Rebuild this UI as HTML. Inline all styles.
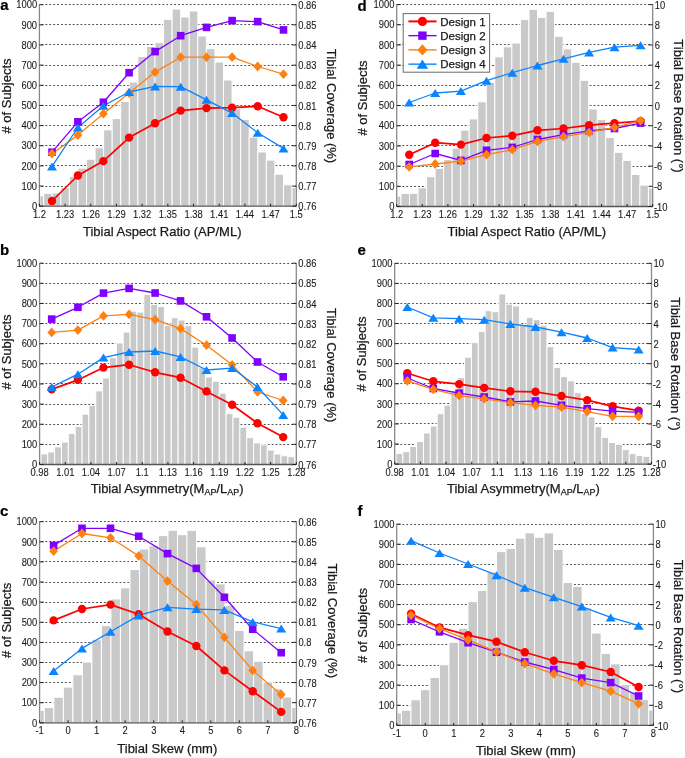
<!DOCTYPE html>
<html><head><meta charset="utf-8"><style>
html,body{margin:0;padding:0;background:#fff;}
svg{display:block;will-change:transform;}
.br{fill:#c9c9c9;stroke:#fff;stroke-width:1;}
.g{stroke:#505050;stroke-width:1;stroke-dasharray:1.9 2;stroke-dashoffset:1.4;}
.ax{stroke:#8a8a8a;stroke-width:1.3;fill:none;}
.axb{stroke:#555;stroke-width:1.3;fill:none;}
.tk{stroke:#222;stroke-width:1;fill:none;}
text{font-family:"Liberation Sans", sans-serif;fill:#1a1a1a;stroke:#1a1a1a;stroke-width:0.25px;}
.t{font-size:10.2px;stroke-width:0.1px;}
.ti{font-size:13px;}
.sub{font-size:9px;}
.pl{font-size:15px;font-weight:bold;fill:#000;stroke:#000;stroke-width:0.2px;}
.lg{font-size:11.5px;}
</style></head><body>
<svg width="685" height="758" viewBox="0 0 685 758">
<line x1="39" y1="4.5" x2="296.3" y2="4.5" class="g"/>
<line x1="39" y1="24.5" x2="296.3" y2="24.5" class="g"/>
<line x1="39" y1="44.5" x2="296.3" y2="44.5" class="g"/>
<line x1="39" y1="65.5" x2="296.3" y2="65.5" class="g"/>
<line x1="39" y1="85.5" x2="296.3" y2="85.5" class="g"/>
<line x1="39" y1="105.5" x2="296.3" y2="105.5" class="g"/>
<line x1="39" y1="125.5" x2="296.3" y2="125.5" class="g"/>
<line x1="39" y1="145.5" x2="296.3" y2="145.5" class="g"/>
<line x1="39" y1="165.5" x2="296.3" y2="165.5" class="g"/>
<line x1="39" y1="186.5" x2="296.3" y2="186.5" class="g"/>
<rect class="br" x="39.9" y="195.8" width="3.78" height="10.4"/>
<rect class="br" x="43.68" y="193.2" width="8.56" height="13"/>
<rect class="br" x="52.25" y="193" width="8.56" height="13.2"/>
<rect class="br" x="60.81" y="187.5" width="8.56" height="18.7"/>
<rect class="br" x="69.37" y="176.4" width="8.56" height="29.8"/>
<rect class="br" x="77.94" y="168.1" width="8.56" height="38.1"/>
<rect class="br" x="86.5" y="159.2" width="8.56" height="47"/>
<rect class="br" x="95.06" y="147.8" width="8.56" height="58.4"/>
<rect class="br" x="103.62" y="129.8" width="8.56" height="76.4"/>
<rect class="br" x="112.19" y="118.6" width="8.56" height="87.6"/>
<rect class="br" x="120.75" y="101.5" width="8.56" height="104.7"/>
<rect class="br" x="129.31" y="82" width="8.56" height="124.2"/>
<rect class="br" x="137.88" y="56.6" width="8.56" height="149.6"/>
<rect class="br" x="146.44" y="46.5" width="8.56" height="159.7"/>
<rect class="br" x="155.01" y="42.7" width="8.56" height="163.5"/>
<rect class="br" x="163.57" y="19.3" width="8.56" height="186.9"/>
<rect class="br" x="172.13" y="9.1" width="8.56" height="197.1"/>
<rect class="br" x="180.7" y="17" width="8.56" height="189.2"/>
<rect class="br" x="189.26" y="11" width="8.56" height="195.2"/>
<rect class="br" x="197.82" y="36" width="8.56" height="170.2"/>
<rect class="br" x="206.39" y="48.6" width="8.56" height="157.6"/>
<rect class="br" x="214.95" y="62" width="8.56" height="144.2"/>
<rect class="br" x="223.51" y="80" width="8.56" height="126.2"/>
<rect class="br" x="232.08" y="108.7" width="8.56" height="97.5"/>
<rect class="br" x="240.64" y="119.3" width="8.56" height="86.9"/>
<rect class="br" x="249.2" y="137" width="8.56" height="69.2"/>
<rect class="br" x="257.76" y="152" width="8.56" height="54.2"/>
<rect class="br" x="266.33" y="160.1" width="8.56" height="46.1"/>
<rect class="br" x="274.89" y="174.2" width="8.56" height="32"/>
<rect class="br" x="283.45" y="184.8" width="8.56" height="21.4"/>
<rect class="br" x="292.02" y="187.7" width="3.78" height="18.5"/>
<path d="M39.4 4.7V206.2M296.3 4.7V206.2" class="ax"/>
<path d="M39.4 206.2H296.3" class="axb"/>
<path d="M39.4 4.7h4M296.3 4.7h-4M39.4 24.85h4M296.3 24.85h-4M39.4 45h4M296.3 45h-4M39.4 65.15h4M296.3 65.15h-4M39.4 85.3h4M296.3 85.3h-4M39.4 105.45h4M296.3 105.45h-4M39.4 125.6h4M296.3 125.6h-4M39.4 145.75h4M296.3 145.75h-4M39.4 165.9h4M296.3 165.9h-4M39.4 186.05h4M296.3 186.05h-4M39.4 206.2h4M296.3 206.2h-4M39.4 206.2v-2.5M65.09 206.2v-2.5M90.78 206.2v-2.5M116.47 206.2v-2.5M142.16 206.2v-2.5M167.85 206.2v-2.5M193.54 206.2v-2.5M219.23 206.2v-2.5M244.92 206.2v-2.5M270.61 206.2v-2.5M296.3 206.2v-2.5" class="tk"/>
<text transform="translate(39.4 217.8) scale(0.92 1)" text-anchor="middle" class="t">1.2</text>
<text transform="translate(65.09 217.8) scale(0.92 1)" text-anchor="middle" class="t">1.23</text>
<text transform="translate(90.78 217.8) scale(0.92 1)" text-anchor="middle" class="t">1.26</text>
<text transform="translate(116.47 217.8) scale(0.92 1)" text-anchor="middle" class="t">1.29</text>
<text transform="translate(142.16 217.8) scale(0.92 1)" text-anchor="middle" class="t">1.32</text>
<text transform="translate(167.85 217.8) scale(0.92 1)" text-anchor="middle" class="t">1.35</text>
<text transform="translate(193.54 217.8) scale(0.92 1)" text-anchor="middle" class="t">1.38</text>
<text transform="translate(219.23 217.8) scale(0.92 1)" text-anchor="middle" class="t">1.41</text>
<text transform="translate(244.92 217.8) scale(0.92 1)" text-anchor="middle" class="t">1.44</text>
<text transform="translate(270.61 217.8) scale(0.92 1)" text-anchor="middle" class="t">1.47</text>
<text transform="translate(296.3 217.8) scale(0.92 1)" text-anchor="middle" class="t">1.5</text>
<text transform="translate(37.1 8.4) scale(0.92 1)" text-anchor="end" class="t">1000</text>
<text transform="translate(37.1 28.55) scale(0.92 1)" text-anchor="end" class="t">900</text>
<text transform="translate(37.1 48.7) scale(0.92 1)" text-anchor="end" class="t">800</text>
<text transform="translate(37.1 68.85) scale(0.92 1)" text-anchor="end" class="t">700</text>
<text transform="translate(37.1 89) scale(0.92 1)" text-anchor="end" class="t">600</text>
<text transform="translate(37.1 109.15) scale(0.92 1)" text-anchor="end" class="t">500</text>
<text transform="translate(37.1 129.3) scale(0.92 1)" text-anchor="end" class="t">400</text>
<text transform="translate(37.1 149.45) scale(0.92 1)" text-anchor="end" class="t">300</text>
<text transform="translate(37.1 169.6) scale(0.92 1)" text-anchor="end" class="t">200</text>
<text transform="translate(37.1 189.75) scale(0.92 1)" text-anchor="end" class="t">100</text>
<text transform="translate(37.1 209.9) scale(0.92 1)" text-anchor="end" class="t">0</text>
<text transform="translate(298.3 8.8) scale(0.92 1)" class="t">0.86</text>
<text transform="translate(298.3 28.95) scale(0.92 1)" class="t">0.85</text>
<text transform="translate(298.3 49.1) scale(0.92 1)" class="t">0.84</text>
<text transform="translate(298.3 69.25) scale(0.92 1)" class="t">0.83</text>
<text transform="translate(298.3 89.4) scale(0.92 1)" class="t">0.82</text>
<text transform="translate(298.3 109.55) scale(0.92 1)" class="t">0.81</text>
<text transform="translate(298.3 129.7) scale(0.92 1)" class="t">0.8</text>
<text transform="translate(298.3 149.85) scale(0.92 1)" class="t">0.79</text>
<text transform="translate(298.3 170) scale(0.92 1)" class="t">0.78</text>
<text transform="translate(298.3 190.15) scale(0.92 1)" class="t">0.77</text>
<text transform="translate(298.3 210.3) scale(0.92 1)" class="t">0.76</text>
<polyline points="52,201 77.9,175.5 103.4,161.1 129.1,137.6 155.1,123.2 180.7,110.6 206.5,108.1 232.1,107.7 257.7,106.2 283.5,117.3" fill="none" stroke="#ff0000" stroke-width="1.7" stroke-linejoin="round"/>
<polyline points="52,152.2 77.9,121.8 103.4,102.2 129.1,72.7 155.1,51.6 180.7,35.7 206.5,27.4 232.1,20.6 257.7,21.6 283.5,29.9" fill="none" stroke="#8000ff" stroke-width="1.3" stroke-linejoin="round"/>
<polyline points="52,153.7 77.9,135.1 103.4,113.7 129.1,93 155.1,72.1 180.7,57.2 206.5,57.2 232.1,57.2 257.7,66.5 283.5,74.2" fill="none" stroke="#ff8010" stroke-width="1.3" stroke-linejoin="round"/>
<polyline points="52,166.4 77.9,127.5 103.4,105.7 129.1,92 155.1,86.4 180.7,86.7 206.5,99.8 232.1,113.1 257.7,132.8 283.5,148.4" fill="none" stroke="#0a84ff" stroke-width="1.3" stroke-linejoin="round"/>
<circle cx="52" cy="201" r="4.2" fill="#ff0000"/>
<circle cx="77.9" cy="175.5" r="4.2" fill="#ff0000"/>
<circle cx="103.4" cy="161.1" r="4.2" fill="#ff0000"/>
<circle cx="129.1" cy="137.6" r="4.2" fill="#ff0000"/>
<circle cx="155.1" cy="123.2" r="4.2" fill="#ff0000"/>
<circle cx="180.7" cy="110.6" r="4.2" fill="#ff0000"/>
<circle cx="206.5" cy="108.1" r="4.2" fill="#ff0000"/>
<circle cx="232.1" cy="107.7" r="4.2" fill="#ff0000"/>
<circle cx="257.7" cy="106.2" r="4.2" fill="#ff0000"/>
<circle cx="283.5" cy="117.3" r="4.2" fill="#ff0000"/>
<rect x="48.2" y="148.4" width="7.6" height="7.6" fill="#8000ff"/>
<rect x="74.1" y="118" width="7.6" height="7.6" fill="#8000ff"/>
<rect x="99.6" y="98.4" width="7.6" height="7.6" fill="#8000ff"/>
<rect x="125.3" y="68.9" width="7.6" height="7.6" fill="#8000ff"/>
<rect x="151.3" y="47.8" width="7.6" height="7.6" fill="#8000ff"/>
<rect x="176.9" y="31.9" width="7.6" height="7.6" fill="#8000ff"/>
<rect x="202.7" y="23.6" width="7.6" height="7.6" fill="#8000ff"/>
<rect x="228.3" y="16.8" width="7.6" height="7.6" fill="#8000ff"/>
<rect x="253.9" y="17.8" width="7.6" height="7.6" fill="#8000ff"/>
<rect x="279.7" y="26.1" width="7.6" height="7.6" fill="#8000ff"/>
<polygon points="52,148.8 56.4,153.7 52,158.6 47.6,153.7" fill="#ff8010"/>
<polygon points="77.9,130.2 82.3,135.1 77.9,140 73.5,135.1" fill="#ff8010"/>
<polygon points="103.4,108.8 107.8,113.7 103.4,118.6 99,113.7" fill="#ff8010"/>
<polygon points="129.1,88.1 133.5,93 129.1,97.9 124.7,93" fill="#ff8010"/>
<polygon points="155.1,67.2 159.5,72.1 155.1,77 150.7,72.1" fill="#ff8010"/>
<polygon points="180.7,52.3 185.1,57.2 180.7,62.1 176.3,57.2" fill="#ff8010"/>
<polygon points="206.5,52.3 210.9,57.2 206.5,62.1 202.1,57.2" fill="#ff8010"/>
<polygon points="232.1,52.3 236.5,57.2 232.1,62.1 227.7,57.2" fill="#ff8010"/>
<polygon points="257.7,61.6 262.1,66.5 257.7,71.4 253.3,66.5" fill="#ff8010"/>
<polygon points="283.5,69.3 287.9,74.2 283.5,79.1 279.1,74.2" fill="#ff8010"/>
<polygon points="52,162.4 57,170.4 47,170.4" fill="#0a84ff"/>
<polygon points="77.9,123.5 82.9,131.5 72.9,131.5" fill="#0a84ff"/>
<polygon points="103.4,101.7 108.4,109.7 98.4,109.7" fill="#0a84ff"/>
<polygon points="129.1,88 134.1,96 124.1,96" fill="#0a84ff"/>
<polygon points="155.1,82.4 160.1,90.4 150.1,90.4" fill="#0a84ff"/>
<polygon points="180.7,82.7 185.7,90.7 175.7,90.7" fill="#0a84ff"/>
<polygon points="206.5,95.8 211.5,103.8 201.5,103.8" fill="#0a84ff"/>
<polygon points="232.1,109.1 237.1,117.1 227.1,117.1" fill="#0a84ff"/>
<polygon points="257.7,128.8 262.7,136.8 252.7,136.8" fill="#0a84ff"/>
<polygon points="283.5,144.4 288.5,152.4 278.5,152.4" fill="#0a84ff"/>
<text x="0.3" y="9.6" class="pl">a</text>
<text x="83" y="236" class="ti">Tibial Aspect Ratio (AP/ML)</text>
<text transform="translate(11,96) rotate(-90)" text-anchor="middle" class="ti"># of Subjects</text>
<text transform="translate(327,106) rotate(90)" text-anchor="middle" class="ti">Tibial Coverage (%)</text>
<line x1="39" y1="263.5" x2="296.3" y2="263.5" class="g"/>
<line x1="39" y1="283.5" x2="296.3" y2="283.5" class="g"/>
<line x1="39" y1="303.5" x2="296.3" y2="303.5" class="g"/>
<line x1="39" y1="323.5" x2="296.3" y2="323.5" class="g"/>
<line x1="39" y1="343.5" x2="296.3" y2="343.5" class="g"/>
<line x1="39" y1="363.5" x2="296.3" y2="363.5" class="g"/>
<line x1="39" y1="383.5" x2="296.3" y2="383.5" class="g"/>
<line x1="39" y1="404.5" x2="296.3" y2="404.5" class="g"/>
<line x1="39" y1="424.5" x2="296.3" y2="424.5" class="g"/>
<line x1="39" y1="444.5" x2="296.3" y2="444.5" class="g"/>
<rect class="br" x="40.1" y="453.9" width="0.8" height="10.6"/>
<rect class="br" x="40.9" y="453.9" width="6.86" height="10.6"/>
<rect class="br" x="47.76" y="452" width="6.86" height="12.5"/>
<rect class="br" x="54.62" y="446.9" width="6.86" height="17.6"/>
<rect class="br" x="61.48" y="442" width="6.86" height="22.5"/>
<rect class="br" x="68.34" y="433.4" width="6.86" height="31.1"/>
<rect class="br" x="75.2" y="426.4" width="6.86" height="38.1"/>
<rect class="br" x="82.06" y="414.1" width="6.86" height="50.4"/>
<rect class="br" x="88.92" y="405.5" width="6.86" height="59"/>
<rect class="br" x="95.78" y="390.9" width="6.86" height="73.6"/>
<rect class="br" x="102.64" y="378" width="6.86" height="86.5"/>
<rect class="br" x="109.5" y="357.6" width="6.86" height="106.9"/>
<rect class="br" x="116.36" y="343" width="6.86" height="121.5"/>
<rect class="br" x="123.22" y="332" width="6.86" height="132.5"/>
<rect class="br" x="130.08" y="311.1" width="6.86" height="153.4"/>
<rect class="br" x="136.94" y="312.1" width="6.86" height="152.4"/>
<rect class="br" x="143.8" y="294.4" width="6.86" height="170.1"/>
<rect class="br" x="150.66" y="304.5" width="6.86" height="160"/>
<rect class="br" x="157.52" y="306.4" width="6.86" height="158.1"/>
<rect class="br" x="164.38" y="325.6" width="6.86" height="138.9"/>
<rect class="br" x="171.24" y="317.7" width="6.86" height="146.8"/>
<rect class="br" x="178.1" y="320" width="6.86" height="144.5"/>
<rect class="br" x="184.96" y="325.6" width="6.86" height="138.9"/>
<rect class="br" x="191.82" y="347" width="6.86" height="117.5"/>
<rect class="br" x="198.68" y="367.8" width="6.86" height="96.7"/>
<rect class="br" x="205.54" y="377" width="6.86" height="87.5"/>
<rect class="br" x="212.4" y="381.2" width="6.86" height="83.3"/>
<rect class="br" x="219.26" y="393.1" width="6.86" height="71.4"/>
<rect class="br" x="226.12" y="413.6" width="6.86" height="50.9"/>
<rect class="br" x="232.98" y="417.2" width="6.86" height="47.3"/>
<rect class="br" x="239.84" y="427.1" width="6.86" height="37.4"/>
<rect class="br" x="246.7" y="437.7" width="6.86" height="26.8"/>
<rect class="br" x="253.56" y="442.9" width="6.86" height="21.6"/>
<rect class="br" x="260.42" y="444.8" width="6.86" height="19.7"/>
<rect class="br" x="267.28" y="450" width="6.86" height="14.5"/>
<rect class="br" x="274.14" y="454" width="6.86" height="10.5"/>
<rect class="br" x="281" y="455.8" width="6.86" height="8.7"/>
<rect class="br" x="287.86" y="456.7" width="6.86" height="7.8"/>
<path d="M39.6 263.2V464.5M296.3 263.2V464.5" class="ax"/>
<path d="M39.6 464.5H296.3" class="axb"/>
<path d="M39.6 263.2h4M296.3 263.2h-4M39.6 283.33h4M296.3 283.33h-4M39.6 303.46h4M296.3 303.46h-4M39.6 323.59h4M296.3 323.59h-4M39.6 343.72h4M296.3 343.72h-4M39.6 363.85h4M296.3 363.85h-4M39.6 383.98h4M296.3 383.98h-4M39.6 404.11h4M296.3 404.11h-4M39.6 424.24h4M296.3 424.24h-4M39.6 444.37h4M296.3 444.37h-4M39.6 464.5h4M296.3 464.5h-4M39.6 464.5v-2.5M65.27 464.5v-2.5M90.94 464.5v-2.5M116.61 464.5v-2.5M142.28 464.5v-2.5M167.95 464.5v-2.5M193.62 464.5v-2.5M219.29 464.5v-2.5M244.96 464.5v-2.5M270.63 464.5v-2.5M296.3 464.5v-2.5" class="tk"/>
<text transform="translate(39.6 476.1) scale(0.92 1)" text-anchor="middle" class="t">0.98</text>
<text transform="translate(65.27 476.1) scale(0.92 1)" text-anchor="middle" class="t">1.01</text>
<text transform="translate(90.94 476.1) scale(0.92 1)" text-anchor="middle" class="t">1.04</text>
<text transform="translate(116.61 476.1) scale(0.92 1)" text-anchor="middle" class="t">1.07</text>
<text transform="translate(142.28 476.1) scale(0.92 1)" text-anchor="middle" class="t">1.1</text>
<text transform="translate(167.95 476.1) scale(0.92 1)" text-anchor="middle" class="t">1.13</text>
<text transform="translate(193.62 476.1) scale(0.92 1)" text-anchor="middle" class="t">1.16</text>
<text transform="translate(219.29 476.1) scale(0.92 1)" text-anchor="middle" class="t">1.19</text>
<text transform="translate(244.96 476.1) scale(0.92 1)" text-anchor="middle" class="t">1.22</text>
<text transform="translate(270.63 476.1) scale(0.92 1)" text-anchor="middle" class="t">1.25</text>
<text transform="translate(296.3 476.1) scale(0.92 1)" text-anchor="middle" class="t">1.28</text>
<text transform="translate(37.3 266.9) scale(0.92 1)" text-anchor="end" class="t">1000</text>
<text transform="translate(37.3 287.03) scale(0.92 1)" text-anchor="end" class="t">900</text>
<text transform="translate(37.3 307.16) scale(0.92 1)" text-anchor="end" class="t">800</text>
<text transform="translate(37.3 327.29) scale(0.92 1)" text-anchor="end" class="t">700</text>
<text transform="translate(37.3 347.42) scale(0.92 1)" text-anchor="end" class="t">600</text>
<text transform="translate(37.3 367.55) scale(0.92 1)" text-anchor="end" class="t">500</text>
<text transform="translate(37.3 387.68) scale(0.92 1)" text-anchor="end" class="t">400</text>
<text transform="translate(37.3 407.81) scale(0.92 1)" text-anchor="end" class="t">300</text>
<text transform="translate(37.3 427.94) scale(0.92 1)" text-anchor="end" class="t">200</text>
<text transform="translate(37.3 448.07) scale(0.92 1)" text-anchor="end" class="t">100</text>
<text transform="translate(37.3 468.2) scale(0.92 1)" text-anchor="end" class="t">0</text>
<text transform="translate(298.3 267.3) scale(0.92 1)" class="t">0.86</text>
<text transform="translate(298.3 287.43) scale(0.92 1)" class="t">0.85</text>
<text transform="translate(298.3 307.56) scale(0.92 1)" class="t">0.84</text>
<text transform="translate(298.3 327.69) scale(0.92 1)" class="t">0.83</text>
<text transform="translate(298.3 347.82) scale(0.92 1)" class="t">0.82</text>
<text transform="translate(298.3 367.95) scale(0.92 1)" class="t">0.81</text>
<text transform="translate(298.3 388.08) scale(0.92 1)" class="t">0.8</text>
<text transform="translate(298.3 408.21) scale(0.92 1)" class="t">0.79</text>
<text transform="translate(298.3 428.34) scale(0.92 1)" class="t">0.78</text>
<text transform="translate(298.3 448.47) scale(0.92 1)" class="t">0.77</text>
<text transform="translate(298.3 468.6) scale(0.92 1)" class="t">0.76</text>
<polyline points="51.7,389.4 77.9,379.9 103.5,367.6 129.1,364.7 155.1,372.3 180.5,377.7 206.5,391.4 232.1,404.7 257.5,423.2 283.2,437.1" fill="none" stroke="#ff0000" stroke-width="1.7" stroke-linejoin="round"/>
<polyline points="51.7,319.1 77.9,307.3 103.5,293.1 129.1,288.4 155.1,293 180.5,300.9 206.5,316.8 232.1,338 257.5,362 283.2,376.8" fill="none" stroke="#8000ff" stroke-width="1.3" stroke-linejoin="round"/>
<polyline points="51.7,332.4 77.9,330.1 103.5,315.9 129.1,314.4 155.1,319.7 180.5,328.6 206.5,345.2 232.1,364.8 257.5,391.8 283.2,400.5" fill="none" stroke="#ff8010" stroke-width="1.3" stroke-linejoin="round"/>
<polyline points="51.7,387.1 77.9,374.2 103.5,357.6 129.1,352 155.1,351 180.5,356.9 206.5,370 232.1,368.1 257.5,387 283.2,414.9" fill="none" stroke="#0a84ff" stroke-width="1.3" stroke-linejoin="round"/>
<circle cx="51.7" cy="389.4" r="4.2" fill="#ff0000"/>
<circle cx="77.9" cy="379.9" r="4.2" fill="#ff0000"/>
<circle cx="103.5" cy="367.6" r="4.2" fill="#ff0000"/>
<circle cx="129.1" cy="364.7" r="4.2" fill="#ff0000"/>
<circle cx="155.1" cy="372.3" r="4.2" fill="#ff0000"/>
<circle cx="180.5" cy="377.7" r="4.2" fill="#ff0000"/>
<circle cx="206.5" cy="391.4" r="4.2" fill="#ff0000"/>
<circle cx="232.1" cy="404.7" r="4.2" fill="#ff0000"/>
<circle cx="257.5" cy="423.2" r="4.2" fill="#ff0000"/>
<circle cx="283.2" cy="437.1" r="4.2" fill="#ff0000"/>
<rect x="47.9" y="315.3" width="7.6" height="7.6" fill="#8000ff"/>
<rect x="74.1" y="303.5" width="7.6" height="7.6" fill="#8000ff"/>
<rect x="99.7" y="289.3" width="7.6" height="7.6" fill="#8000ff"/>
<rect x="125.3" y="284.6" width="7.6" height="7.6" fill="#8000ff"/>
<rect x="151.3" y="289.2" width="7.6" height="7.6" fill="#8000ff"/>
<rect x="176.7" y="297.1" width="7.6" height="7.6" fill="#8000ff"/>
<rect x="202.7" y="313" width="7.6" height="7.6" fill="#8000ff"/>
<rect x="228.3" y="334.2" width="7.6" height="7.6" fill="#8000ff"/>
<rect x="253.7" y="358.2" width="7.6" height="7.6" fill="#8000ff"/>
<rect x="279.4" y="373" width="7.6" height="7.6" fill="#8000ff"/>
<polygon points="51.7,327.5 56.1,332.4 51.7,337.3 47.3,332.4" fill="#ff8010"/>
<polygon points="77.9,325.2 82.3,330.1 77.9,335 73.5,330.1" fill="#ff8010"/>
<polygon points="103.5,311 107.9,315.9 103.5,320.8 99.1,315.9" fill="#ff8010"/>
<polygon points="129.1,309.5 133.5,314.4 129.1,319.3 124.7,314.4" fill="#ff8010"/>
<polygon points="155.1,314.8 159.5,319.7 155.1,324.6 150.7,319.7" fill="#ff8010"/>
<polygon points="180.5,323.7 184.9,328.6 180.5,333.5 176.1,328.6" fill="#ff8010"/>
<polygon points="206.5,340.3 210.9,345.2 206.5,350.1 202.1,345.2" fill="#ff8010"/>
<polygon points="232.1,359.9 236.5,364.8 232.1,369.7 227.7,364.8" fill="#ff8010"/>
<polygon points="257.5,386.9 261.9,391.8 257.5,396.7 253.1,391.8" fill="#ff8010"/>
<polygon points="283.2,395.6 287.6,400.5 283.2,405.4 278.8,400.5" fill="#ff8010"/>
<polygon points="51.7,383.1 56.7,391.1 46.7,391.1" fill="#0a84ff"/>
<polygon points="77.9,370.2 82.9,378.2 72.9,378.2" fill="#0a84ff"/>
<polygon points="103.5,353.6 108.5,361.6 98.5,361.6" fill="#0a84ff"/>
<polygon points="129.1,348 134.1,356 124.1,356" fill="#0a84ff"/>
<polygon points="155.1,347 160.1,355 150.1,355" fill="#0a84ff"/>
<polygon points="180.5,352.9 185.5,360.9 175.5,360.9" fill="#0a84ff"/>
<polygon points="206.5,366 211.5,374 201.5,374" fill="#0a84ff"/>
<polygon points="232.1,364.1 237.1,372.1 227.1,372.1" fill="#0a84ff"/>
<polygon points="257.5,383 262.5,391 252.5,391" fill="#0a84ff"/>
<polygon points="283.2,410.9 288.2,418.9 278.2,418.9" fill="#0a84ff"/>
<text x="0" y="254.5" class="pl">b</text>
<text x="90.8" y="492.6" class="ti">Tibial Asymmetry(M<tspan class="sub" dy="2">AP</tspan><tspan dy="-2">/L</tspan><tspan class="sub" dy="2">AP</tspan><tspan dy="-2">)</tspan></text>
<text transform="translate(10.7,352) rotate(-90)" text-anchor="middle" class="ti"># of Subjects</text>
<text transform="translate(327,365.2) rotate(90)" text-anchor="middle" class="ti">Tibial Coverage (%)</text>
<line x1="39" y1="521.5" x2="296.4" y2="521.5" class="g"/>
<line x1="39" y1="541.5" x2="296.4" y2="541.5" class="g"/>
<line x1="39" y1="561.5" x2="296.4" y2="561.5" class="g"/>
<line x1="39" y1="582.5" x2="296.4" y2="582.5" class="g"/>
<line x1="39" y1="602.5" x2="296.4" y2="602.5" class="g"/>
<line x1="39" y1="622.5" x2="296.4" y2="622.5" class="g"/>
<line x1="39" y1="642.5" x2="296.4" y2="642.5" class="g"/>
<line x1="39" y1="662.5" x2="296.4" y2="662.5" class="g"/>
<line x1="39" y1="682.5" x2="296.4" y2="682.5" class="g"/>
<line x1="39" y1="702.5" x2="296.4" y2="702.5" class="g"/>
<rect class="br" x="40.1" y="710.4" width="4.26" height="12.4"/>
<rect class="br" x="44.36" y="707.6" width="9.51" height="15.2"/>
<rect class="br" x="53.87" y="697.2" width="9.51" height="25.6"/>
<rect class="br" x="63.38" y="687.1" width="9.51" height="35.7"/>
<rect class="br" x="72.89" y="674.8" width="9.51" height="48"/>
<rect class="br" x="82.4" y="662.1" width="9.51" height="60.7"/>
<rect class="br" x="91.91" y="639.7" width="9.51" height="83.1"/>
<rect class="br" x="101.42" y="625.6" width="9.51" height="97.2"/>
<rect class="br" x="110.93" y="599" width="9.51" height="123.8"/>
<rect class="br" x="120.44" y="587.9" width="9.51" height="134.9"/>
<rect class="br" x="129.96" y="569.5" width="9.51" height="153.3"/>
<rect class="br" x="139.47" y="549" width="9.51" height="173.8"/>
<rect class="br" x="148.98" y="545.8" width="9.51" height="177"/>
<rect class="br" x="158.49" y="535.6" width="9.51" height="187.2"/>
<rect class="br" x="168" y="530.3" width="9.51" height="192.5"/>
<rect class="br" x="177.51" y="534.7" width="9.51" height="188.1"/>
<rect class="br" x="187.02" y="530.3" width="9.51" height="192.5"/>
<rect class="br" x="196.53" y="546.8" width="9.51" height="176"/>
<rect class="br" x="206.04" y="580" width="9.51" height="142.8"/>
<rect class="br" x="215.56" y="583.9" width="9.51" height="138.9"/>
<rect class="br" x="225.07" y="605.4" width="9.51" height="117.4"/>
<rect class="br" x="234.58" y="630.4" width="9.51" height="92.4"/>
<rect class="br" x="244.09" y="650.8" width="9.51" height="72"/>
<rect class="br" x="253.6" y="661.2" width="9.51" height="61.6"/>
<rect class="br" x="263.11" y="682" width="9.51" height="40.8"/>
<rect class="br" x="272.62" y="688.7" width="9.51" height="34.1"/>
<rect class="br" x="282.13" y="697" width="9.51" height="25.8"/>
<rect class="br" x="291.64" y="707.4" width="4.26" height="15.4"/>
<path d="M39.6 521.7V722.8M296.4 521.7V722.8" class="ax"/>
<path d="M39.6 722.8H296.4" class="axb"/>
<path d="M39.6 521.7h4M296.4 521.7h-4M39.6 541.81h4M296.4 541.81h-4M39.6 561.92h4M296.4 561.92h-4M39.6 582.03h4M296.4 582.03h-4M39.6 602.14h4M296.4 602.14h-4M39.6 622.25h4M296.4 622.25h-4M39.6 642.36h4M296.4 642.36h-4M39.6 662.47h4M296.4 662.47h-4M39.6 682.58h4M296.4 682.58h-4M39.6 702.69h4M296.4 702.69h-4M39.6 722.8h4M296.4 722.8h-4M39.6 722.8v-2.5M68.13 722.8v-2.5M96.67 722.8v-2.5M125.2 722.8v-2.5M153.73 722.8v-2.5M182.27 722.8v-2.5M210.8 722.8v-2.5M239.33 722.8v-2.5M267.87 722.8v-2.5M296.4 722.8v-2.5" class="tk"/>
<text transform="translate(39.6 734.4) scale(0.92 1)" text-anchor="middle" class="t">-1</text>
<text transform="translate(68.13 734.4) scale(0.92 1)" text-anchor="middle" class="t">0</text>
<text transform="translate(96.67 734.4) scale(0.92 1)" text-anchor="middle" class="t">1</text>
<text transform="translate(125.2 734.4) scale(0.92 1)" text-anchor="middle" class="t">2</text>
<text transform="translate(153.73 734.4) scale(0.92 1)" text-anchor="middle" class="t">3</text>
<text transform="translate(182.27 734.4) scale(0.92 1)" text-anchor="middle" class="t">4</text>
<text transform="translate(210.8 734.4) scale(0.92 1)" text-anchor="middle" class="t">5</text>
<text transform="translate(239.33 734.4) scale(0.92 1)" text-anchor="middle" class="t">6</text>
<text transform="translate(267.87 734.4) scale(0.92 1)" text-anchor="middle" class="t">7</text>
<text transform="translate(296.4 734.4) scale(0.92 1)" text-anchor="middle" class="t">8</text>
<text transform="translate(37.3 525.4) scale(0.92 1)" text-anchor="end" class="t">1000</text>
<text transform="translate(37.3 545.51) scale(0.92 1)" text-anchor="end" class="t">900</text>
<text transform="translate(37.3 565.62) scale(0.92 1)" text-anchor="end" class="t">800</text>
<text transform="translate(37.3 585.73) scale(0.92 1)" text-anchor="end" class="t">700</text>
<text transform="translate(37.3 605.84) scale(0.92 1)" text-anchor="end" class="t">600</text>
<text transform="translate(37.3 625.95) scale(0.92 1)" text-anchor="end" class="t">500</text>
<text transform="translate(37.3 646.06) scale(0.92 1)" text-anchor="end" class="t">400</text>
<text transform="translate(37.3 666.17) scale(0.92 1)" text-anchor="end" class="t">300</text>
<text transform="translate(37.3 686.28) scale(0.92 1)" text-anchor="end" class="t">200</text>
<text transform="translate(37.3 706.39) scale(0.92 1)" text-anchor="end" class="t">100</text>
<text transform="translate(37.3 726.5) scale(0.92 1)" text-anchor="end" class="t">0</text>
<text transform="translate(298.4 525.8) scale(0.92 1)" class="t">0.86</text>
<text transform="translate(298.4 545.91) scale(0.92 1)" class="t">0.85</text>
<text transform="translate(298.4 566.02) scale(0.92 1)" class="t">0.84</text>
<text transform="translate(298.4 586.13) scale(0.92 1)" class="t">0.83</text>
<text transform="translate(298.4 606.24) scale(0.92 1)" class="t">0.82</text>
<text transform="translate(298.4 626.35) scale(0.92 1)" class="t">0.81</text>
<text transform="translate(298.4 646.46) scale(0.92 1)" class="t">0.8</text>
<text transform="translate(298.4 666.57) scale(0.92 1)" class="t">0.79</text>
<text transform="translate(298.4 686.68) scale(0.92 1)" class="t">0.78</text>
<text transform="translate(298.4 706.79) scale(0.92 1)" class="t">0.77</text>
<text transform="translate(298.4 726.9) scale(0.92 1)" class="t">0.76</text>
<polyline points="53.6,620.4 82,609 110.5,604.6 138.7,614.3 167.5,631.5 196.3,646 224.4,670.4 252.7,691.2 281.2,711.9" fill="none" stroke="#ff0000" stroke-width="1.7" stroke-linejoin="round"/>
<polyline points="53.6,545.4 82,528.3 110.5,528.3 138.7,536.3 167.5,553.6 196.3,568.4 224.4,597.3 252.7,629.2 281.2,652.7" fill="none" stroke="#8000ff" stroke-width="1.3" stroke-linejoin="round"/>
<polyline points="53.6,551.1 82,533.5 110.5,537.8 138.7,555.9 167.5,581.1 196.3,604.6 224.4,637.3 252.7,670.4 281.2,694.5" fill="none" stroke="#ff8010" stroke-width="1.3" stroke-linejoin="round"/>
<polyline points="53.6,671.1 82,648.4 110.5,631.7 138.7,615.4 167.5,607.3 196.3,609.1 224.4,609.9 252.7,621.9 281.2,628.6" fill="none" stroke="#0a84ff" stroke-width="1.3" stroke-linejoin="round"/>
<circle cx="53.6" cy="620.4" r="4.2" fill="#ff0000"/>
<circle cx="82" cy="609" r="4.2" fill="#ff0000"/>
<circle cx="110.5" cy="604.6" r="4.2" fill="#ff0000"/>
<circle cx="138.7" cy="614.3" r="4.2" fill="#ff0000"/>
<circle cx="167.5" cy="631.5" r="4.2" fill="#ff0000"/>
<circle cx="196.3" cy="646" r="4.2" fill="#ff0000"/>
<circle cx="224.4" cy="670.4" r="4.2" fill="#ff0000"/>
<circle cx="252.7" cy="691.2" r="4.2" fill="#ff0000"/>
<circle cx="281.2" cy="711.9" r="4.2" fill="#ff0000"/>
<rect x="49.8" y="541.6" width="7.6" height="7.6" fill="#8000ff"/>
<rect x="78.2" y="524.5" width="7.6" height="7.6" fill="#8000ff"/>
<rect x="106.7" y="524.5" width="7.6" height="7.6" fill="#8000ff"/>
<rect x="134.9" y="532.5" width="7.6" height="7.6" fill="#8000ff"/>
<rect x="163.7" y="549.8" width="7.6" height="7.6" fill="#8000ff"/>
<rect x="192.5" y="564.6" width="7.6" height="7.6" fill="#8000ff"/>
<rect x="220.6" y="593.5" width="7.6" height="7.6" fill="#8000ff"/>
<rect x="248.9" y="625.4" width="7.6" height="7.6" fill="#8000ff"/>
<rect x="277.4" y="648.9" width="7.6" height="7.6" fill="#8000ff"/>
<polygon points="53.6,546.2 58,551.1 53.6,556 49.2,551.1" fill="#ff8010"/>
<polygon points="82,528.6 86.4,533.5 82,538.4 77.6,533.5" fill="#ff8010"/>
<polygon points="110.5,532.9 114.9,537.8 110.5,542.7 106.1,537.8" fill="#ff8010"/>
<polygon points="138.7,551 143.1,555.9 138.7,560.8 134.3,555.9" fill="#ff8010"/>
<polygon points="167.5,576.2 171.9,581.1 167.5,586 163.1,581.1" fill="#ff8010"/>
<polygon points="196.3,599.7 200.7,604.6 196.3,609.5 191.9,604.6" fill="#ff8010"/>
<polygon points="224.4,632.4 228.8,637.3 224.4,642.2 220,637.3" fill="#ff8010"/>
<polygon points="252.7,665.5 257.1,670.4 252.7,675.3 248.3,670.4" fill="#ff8010"/>
<polygon points="281.2,689.6 285.6,694.5 281.2,699.4 276.8,694.5" fill="#ff8010"/>
<polygon points="53.6,667.1 58.6,675.1 48.6,675.1" fill="#0a84ff"/>
<polygon points="82,644.4 87,652.4 77,652.4" fill="#0a84ff"/>
<polygon points="110.5,627.7 115.5,635.7 105.5,635.7" fill="#0a84ff"/>
<polygon points="138.7,611.4 143.7,619.4 133.7,619.4" fill="#0a84ff"/>
<polygon points="167.5,603.3 172.5,611.3 162.5,611.3" fill="#0a84ff"/>
<polygon points="196.3,605.1 201.3,613.1 191.3,613.1" fill="#0a84ff"/>
<polygon points="224.4,605.9 229.4,613.9 219.4,613.9" fill="#0a84ff"/>
<polygon points="252.7,617.9 257.7,625.9 247.7,625.9" fill="#0a84ff"/>
<polygon points="281.2,624.6 286.2,632.6 276.2,632.6" fill="#0a84ff"/>
<text x="0" y="515.5" class="pl">c</text>
<text x="117.3" y="752.6" class="ti">Tibial Skew (mm)</text>
<text transform="translate(10.7,620.3) rotate(-90)" text-anchor="middle" class="ti"># of Subjects</text>
<text transform="translate(328.2,620.8) rotate(90)" text-anchor="middle" class="ti">Tibial Coverage (%)</text>
<line x1="396" y1="4.5" x2="652.7" y2="4.5" class="g"/>
<line x1="396" y1="24.5" x2="652.7" y2="24.5" class="g"/>
<line x1="396" y1="44.5" x2="652.7" y2="44.5" class="g"/>
<line x1="396" y1="65.5" x2="652.7" y2="65.5" class="g"/>
<line x1="396" y1="85.5" x2="652.7" y2="85.5" class="g"/>
<line x1="396" y1="105.5" x2="652.7" y2="105.5" class="g"/>
<line x1="396" y1="125.5" x2="652.7" y2="125.5" class="g"/>
<line x1="396" y1="145.5" x2="652.7" y2="145.5" class="g"/>
<line x1="396" y1="166.5" x2="652.7" y2="166.5" class="g"/>
<line x1="396" y1="186.5" x2="652.7" y2="186.5" class="g"/>
<rect class="br" x="397.2" y="196.1" width="3.77" height="10.4"/>
<rect class="br" x="400.97" y="193.5" width="8.53" height="13"/>
<rect class="br" x="409.5" y="193.3" width="8.53" height="13.2"/>
<rect class="br" x="418.03" y="187.8" width="8.53" height="18.7"/>
<rect class="br" x="426.57" y="176.7" width="8.53" height="29.8"/>
<rect class="br" x="435.1" y="168.4" width="8.53" height="38.1"/>
<rect class="br" x="443.63" y="159.5" width="8.53" height="47"/>
<rect class="br" x="452.17" y="148.1" width="8.53" height="58.4"/>
<rect class="br" x="460.7" y="130.1" width="8.53" height="76.4"/>
<rect class="br" x="469.23" y="118.9" width="8.53" height="87.6"/>
<rect class="br" x="477.77" y="101.8" width="8.53" height="104.7"/>
<rect class="br" x="486.3" y="82.3" width="8.53" height="124.2"/>
<rect class="br" x="494.83" y="56.9" width="8.53" height="149.6"/>
<rect class="br" x="503.37" y="46.8" width="8.53" height="159.7"/>
<rect class="br" x="511.9" y="43" width="8.53" height="163.5"/>
<rect class="br" x="520.43" y="19.6" width="8.53" height="186.9"/>
<rect class="br" x="528.97" y="9.4" width="8.53" height="197.1"/>
<rect class="br" x="537.5" y="17.3" width="8.53" height="189.2"/>
<rect class="br" x="546.03" y="11.3" width="8.53" height="195.2"/>
<rect class="br" x="554.57" y="36.3" width="8.53" height="170.2"/>
<rect class="br" x="563.1" y="48.9" width="8.53" height="157.6"/>
<rect class="br" x="571.63" y="62.3" width="8.53" height="144.2"/>
<rect class="br" x="580.17" y="80.3" width="8.53" height="126.2"/>
<rect class="br" x="588.7" y="109" width="8.53" height="97.5"/>
<rect class="br" x="597.23" y="119.6" width="8.53" height="86.9"/>
<rect class="br" x="605.77" y="137.3" width="8.53" height="69.2"/>
<rect class="br" x="614.3" y="152.3" width="8.53" height="54.2"/>
<rect class="br" x="622.83" y="160.4" width="8.53" height="46.1"/>
<rect class="br" x="631.37" y="174.5" width="8.53" height="32"/>
<rect class="br" x="639.9" y="185.1" width="8.53" height="21.4"/>
<rect class="br" x="648.43" y="188" width="3.77" height="18.5"/>
<path d="M396.7 4.6V206.5M652.7 4.6V206.5" class="ax"/>
<path d="M396.7 206.5H652.7" class="axb"/>
<path d="M396.7 4.6h4M652.7 4.6h-4M396.7 24.79h4M652.7 24.79h-4M396.7 44.98h4M652.7 44.98h-4M396.7 65.17h4M652.7 65.17h-4M396.7 85.36h4M652.7 85.36h-4M396.7 105.55h4M652.7 105.55h-4M396.7 125.74h4M652.7 125.74h-4M396.7 145.93h4M652.7 145.93h-4M396.7 166.12h4M652.7 166.12h-4M396.7 186.31h4M652.7 186.31h-4M396.7 206.5h4M652.7 206.5h-4M396.7 206.5v-2.5M422.3 206.5v-2.5M447.9 206.5v-2.5M473.5 206.5v-2.5M499.1 206.5v-2.5M524.7 206.5v-2.5M550.3 206.5v-2.5M575.9 206.5v-2.5M601.5 206.5v-2.5M627.1 206.5v-2.5M652.7 206.5v-2.5" class="tk"/>
<text transform="translate(396.7 218.1) scale(0.92 1)" text-anchor="middle" class="t">1.2</text>
<text transform="translate(422.3 218.1) scale(0.92 1)" text-anchor="middle" class="t">1.23</text>
<text transform="translate(447.9 218.1) scale(0.92 1)" text-anchor="middle" class="t">1.26</text>
<text transform="translate(473.5 218.1) scale(0.92 1)" text-anchor="middle" class="t">1.29</text>
<text transform="translate(499.1 218.1) scale(0.92 1)" text-anchor="middle" class="t">1.32</text>
<text transform="translate(524.7 218.1) scale(0.92 1)" text-anchor="middle" class="t">1.35</text>
<text transform="translate(550.3 218.1) scale(0.92 1)" text-anchor="middle" class="t">1.38</text>
<text transform="translate(575.9 218.1) scale(0.92 1)" text-anchor="middle" class="t">1.41</text>
<text transform="translate(601.5 218.1) scale(0.92 1)" text-anchor="middle" class="t">1.44</text>
<text transform="translate(627.1 218.1) scale(0.92 1)" text-anchor="middle" class="t">1.47</text>
<text transform="translate(652.7 218.1) scale(0.92 1)" text-anchor="middle" class="t">1.5</text>
<text transform="translate(394.4 8.3) scale(0.92 1)" text-anchor="end" class="t">1000</text>
<text transform="translate(394.4 28.49) scale(0.92 1)" text-anchor="end" class="t">900</text>
<text transform="translate(394.4 48.68) scale(0.92 1)" text-anchor="end" class="t">800</text>
<text transform="translate(394.4 68.87) scale(0.92 1)" text-anchor="end" class="t">700</text>
<text transform="translate(394.4 89.06) scale(0.92 1)" text-anchor="end" class="t">600</text>
<text transform="translate(394.4 109.25) scale(0.92 1)" text-anchor="end" class="t">500</text>
<text transform="translate(394.4 129.44) scale(0.92 1)" text-anchor="end" class="t">400</text>
<text transform="translate(394.4 149.63) scale(0.92 1)" text-anchor="end" class="t">300</text>
<text transform="translate(394.4 169.82) scale(0.92 1)" text-anchor="end" class="t">200</text>
<text transform="translate(394.4 190.01) scale(0.92 1)" text-anchor="end" class="t">100</text>
<text transform="translate(394.4 210.2) scale(0.92 1)" text-anchor="end" class="t">0</text>
<text transform="translate(654.7 8.7) scale(0.92 1)" class="t">10</text>
<text transform="translate(654.7 28.89) scale(0.92 1)" class="t">8</text>
<text transform="translate(654.7 49.08) scale(0.92 1)" class="t">6</text>
<text transform="translate(654.7 69.27) scale(0.92 1)" class="t">4</text>
<text transform="translate(654.7 89.46) scale(0.92 1)" class="t">2</text>
<text transform="translate(654.7 109.65) scale(0.92 1)" class="t">0</text>
<text transform="translate(653.9 129.84) scale(0.92 1)" class="t">-2</text>
<text transform="translate(653.9 150.03) scale(0.92 1)" class="t">-4</text>
<text transform="translate(653.9 170.22) scale(0.92 1)" class="t">-6</text>
<text transform="translate(653.9 190.41) scale(0.92 1)" class="t">-8</text>
<text transform="translate(653.9 210.6) scale(0.92 1)" class="t">-10</text>
<polyline points="409.2,154.7 435.2,142.7 460.9,144.6 486.5,138 512.3,135.7 537.5,130.3 563.5,128.5 589.1,125.1 614.5,123.1 640.6,121.2" fill="none" stroke="#ff0000" stroke-width="1.7" stroke-linejoin="round"/>
<polyline points="409.2,164.5 435.2,153.5 460.9,160.4 486.5,150.3 512.3,147.4 537.5,139.5 563.5,134.7 589.1,130.8 614.5,128.5 640.6,123.1" fill="none" stroke="#8000ff" stroke-width="1.3" stroke-linejoin="round"/>
<polyline points="409.2,166.8 435.2,164 460.9,161.1 486.5,154.7 512.3,149.7 537.5,141.4 563.5,136.6 589.1,132.4 614.5,127.4 640.6,120.8" fill="none" stroke="#ff8010" stroke-width="1.3" stroke-linejoin="round"/>
<polyline points="409.2,102.5 435.2,93 460.9,91.1 486.5,80.7 512.3,72.7 537.5,65.5 563.5,58.8 589.1,52.4 614.5,47.2 640.6,45.3" fill="none" stroke="#0a84ff" stroke-width="1.3" stroke-linejoin="round"/>
<circle cx="409.2" cy="154.7" r="4.2" fill="#ff0000"/>
<circle cx="435.2" cy="142.7" r="4.2" fill="#ff0000"/>
<circle cx="460.9" cy="144.6" r="4.2" fill="#ff0000"/>
<circle cx="486.5" cy="138" r="4.2" fill="#ff0000"/>
<circle cx="512.3" cy="135.7" r="4.2" fill="#ff0000"/>
<circle cx="537.5" cy="130.3" r="4.2" fill="#ff0000"/>
<circle cx="563.5" cy="128.5" r="4.2" fill="#ff0000"/>
<circle cx="589.1" cy="125.1" r="4.2" fill="#ff0000"/>
<circle cx="614.5" cy="123.1" r="4.2" fill="#ff0000"/>
<circle cx="640.6" cy="121.2" r="4.2" fill="#ff0000"/>
<rect x="405.4" y="160.7" width="7.6" height="7.6" fill="#8000ff"/>
<rect x="431.4" y="149.7" width="7.6" height="7.6" fill="#8000ff"/>
<rect x="457.1" y="156.6" width="7.6" height="7.6" fill="#8000ff"/>
<rect x="482.7" y="146.5" width="7.6" height="7.6" fill="#8000ff"/>
<rect x="508.5" y="143.6" width="7.6" height="7.6" fill="#8000ff"/>
<rect x="533.7" y="135.7" width="7.6" height="7.6" fill="#8000ff"/>
<rect x="559.7" y="130.9" width="7.6" height="7.6" fill="#8000ff"/>
<rect x="585.3" y="127" width="7.6" height="7.6" fill="#8000ff"/>
<rect x="610.7" y="124.7" width="7.6" height="7.6" fill="#8000ff"/>
<rect x="636.8" y="119.3" width="7.6" height="7.6" fill="#8000ff"/>
<polygon points="409.2,161.9 413.6,166.8 409.2,171.7 404.8,166.8" fill="#ff8010"/>
<polygon points="435.2,159.1 439.6,164 435.2,168.9 430.8,164" fill="#ff8010"/>
<polygon points="460.9,156.2 465.3,161.1 460.9,166 456.5,161.1" fill="#ff8010"/>
<polygon points="486.5,149.8 490.9,154.7 486.5,159.6 482.1,154.7" fill="#ff8010"/>
<polygon points="512.3,144.8 516.7,149.7 512.3,154.6 507.9,149.7" fill="#ff8010"/>
<polygon points="537.5,136.5 541.9,141.4 537.5,146.3 533.1,141.4" fill="#ff8010"/>
<polygon points="563.5,131.7 567.9,136.6 563.5,141.5 559.1,136.6" fill="#ff8010"/>
<polygon points="589.1,127.5 593.5,132.4 589.1,137.3 584.7,132.4" fill="#ff8010"/>
<polygon points="614.5,122.5 618.9,127.4 614.5,132.3 610.1,127.4" fill="#ff8010"/>
<polygon points="640.6,115.9 645,120.8 640.6,125.7 636.2,120.8" fill="#ff8010"/>
<polygon points="409.2,98.5 414.2,106.5 404.2,106.5" fill="#0a84ff"/>
<polygon points="435.2,89 440.2,97 430.2,97" fill="#0a84ff"/>
<polygon points="460.9,87.1 465.9,95.1 455.9,95.1" fill="#0a84ff"/>
<polygon points="486.5,76.7 491.5,84.7 481.5,84.7" fill="#0a84ff"/>
<polygon points="512.3,68.7 517.3,76.7 507.3,76.7" fill="#0a84ff"/>
<polygon points="537.5,61.5 542.5,69.5 532.5,69.5" fill="#0a84ff"/>
<polygon points="563.5,54.8 568.5,62.8 558.5,62.8" fill="#0a84ff"/>
<polygon points="589.1,48.4 594.1,56.4 584.1,56.4" fill="#0a84ff"/>
<polygon points="614.5,43.2 619.5,51.2 609.5,51.2" fill="#0a84ff"/>
<polygon points="640.6,41.3 645.6,49.3 635.6,49.3" fill="#0a84ff"/>
<text x="357.5" y="10.5" class="pl">d</text>
<text x="447.6" y="236" class="ti">Tibial Aspect Ratio (AP/ML)</text>
<text transform="translate(366.6,98) rotate(-90)" text-anchor="middle" class="ti"># of Subjects</text>
<text transform="translate(673.8,106) rotate(90)" text-anchor="middle" class="ti">Tibial Base Rotation (°)</text>
<line x1="394" y1="263.5" x2="651.5" y2="263.5" class="g"/>
<line x1="394" y1="283.5" x2="651.5" y2="283.5" class="g"/>
<line x1="394" y1="303.5" x2="651.5" y2="303.5" class="g"/>
<line x1="394" y1="323.5" x2="651.5" y2="323.5" class="g"/>
<line x1="394" y1="343.5" x2="651.5" y2="343.5" class="g"/>
<line x1="394" y1="363.5" x2="651.5" y2="363.5" class="g"/>
<line x1="394" y1="383.5" x2="651.5" y2="383.5" class="g"/>
<line x1="394" y1="403.5" x2="651.5" y2="403.5" class="g"/>
<line x1="394" y1="423.5" x2="651.5" y2="423.5" class="g"/>
<line x1="394" y1="444.5" x2="651.5" y2="444.5" class="g"/>
<rect class="br" x="395.2" y="453.5" width="0.8" height="10.6"/>
<rect class="br" x="396" y="453.5" width="6.86" height="10.6"/>
<rect class="br" x="402.86" y="451.6" width="6.86" height="12.5"/>
<rect class="br" x="409.72" y="446.5" width="6.86" height="17.6"/>
<rect class="br" x="416.58" y="441.6" width="6.86" height="22.5"/>
<rect class="br" x="423.44" y="433" width="6.86" height="31.1"/>
<rect class="br" x="430.3" y="426" width="6.86" height="38.1"/>
<rect class="br" x="437.16" y="413.7" width="6.86" height="50.4"/>
<rect class="br" x="444.02" y="405.1" width="6.86" height="59"/>
<rect class="br" x="450.88" y="390.5" width="6.86" height="73.6"/>
<rect class="br" x="457.74" y="377.6" width="6.86" height="86.5"/>
<rect class="br" x="464.6" y="357.2" width="6.86" height="106.9"/>
<rect class="br" x="471.46" y="342.6" width="6.86" height="121.5"/>
<rect class="br" x="478.32" y="331.6" width="6.86" height="132.5"/>
<rect class="br" x="485.18" y="310.7" width="6.86" height="153.4"/>
<rect class="br" x="492.04" y="311.7" width="6.86" height="152.4"/>
<rect class="br" x="498.9" y="294" width="6.86" height="170.1"/>
<rect class="br" x="505.76" y="304.1" width="6.86" height="160"/>
<rect class="br" x="512.62" y="306" width="6.86" height="158.1"/>
<rect class="br" x="519.48" y="325.2" width="6.86" height="138.9"/>
<rect class="br" x="526.34" y="317.3" width="6.86" height="146.8"/>
<rect class="br" x="533.2" y="319.6" width="6.86" height="144.5"/>
<rect class="br" x="540.06" y="325.2" width="6.86" height="138.9"/>
<rect class="br" x="546.92" y="346.6" width="6.86" height="117.5"/>
<rect class="br" x="553.78" y="367.4" width="6.86" height="96.7"/>
<rect class="br" x="560.64" y="376.6" width="6.86" height="87.5"/>
<rect class="br" x="567.5" y="380.8" width="6.86" height="83.3"/>
<rect class="br" x="574.36" y="392.7" width="6.86" height="71.4"/>
<rect class="br" x="581.22" y="413.2" width="6.86" height="50.9"/>
<rect class="br" x="588.08" y="416.8" width="6.86" height="47.3"/>
<rect class="br" x="594.94" y="426.7" width="6.86" height="37.4"/>
<rect class="br" x="601.8" y="437.3" width="6.86" height="26.8"/>
<rect class="br" x="608.66" y="442.5" width="6.86" height="21.6"/>
<rect class="br" x="615.52" y="444.4" width="6.86" height="19.7"/>
<rect class="br" x="622.38" y="449.6" width="6.86" height="14.5"/>
<rect class="br" x="629.24" y="453.6" width="6.86" height="10.5"/>
<rect class="br" x="636.1" y="455.4" width="6.86" height="8.7"/>
<rect class="br" x="642.96" y="456.3" width="6.86" height="7.8"/>
<path d="M394.7 263.3V464.1M651.5 263.3V464.1" class="ax"/>
<path d="M394.7 464.1H651.5" class="axb"/>
<path d="M394.7 263.3h4M651.5 263.3h-4M394.7 283.38h4M651.5 283.38h-4M394.7 303.46h4M651.5 303.46h-4M394.7 323.54h4M651.5 323.54h-4M394.7 343.62h4M651.5 343.62h-4M394.7 363.7h4M651.5 363.7h-4M394.7 383.78h4M651.5 383.78h-4M394.7 403.86h4M651.5 403.86h-4M394.7 423.94h4M651.5 423.94h-4M394.7 444.02h4M651.5 444.02h-4M394.7 464.1h4M651.5 464.1h-4M394.7 464.1v-2.5M420.38 464.1v-2.5M446.06 464.1v-2.5M471.74 464.1v-2.5M497.42 464.1v-2.5M523.1 464.1v-2.5M548.78 464.1v-2.5M574.46 464.1v-2.5M600.14 464.1v-2.5M625.82 464.1v-2.5M651.5 464.1v-2.5" class="tk"/>
<text transform="translate(394.7 475.7) scale(0.92 1)" text-anchor="middle" class="t">0.98</text>
<text transform="translate(420.38 475.7) scale(0.92 1)" text-anchor="middle" class="t">1.01</text>
<text transform="translate(446.06 475.7) scale(0.92 1)" text-anchor="middle" class="t">1.04</text>
<text transform="translate(471.74 475.7) scale(0.92 1)" text-anchor="middle" class="t">1.07</text>
<text transform="translate(497.42 475.7) scale(0.92 1)" text-anchor="middle" class="t">1.1</text>
<text transform="translate(523.1 475.7) scale(0.92 1)" text-anchor="middle" class="t">1.13</text>
<text transform="translate(548.78 475.7) scale(0.92 1)" text-anchor="middle" class="t">1.16</text>
<text transform="translate(574.46 475.7) scale(0.92 1)" text-anchor="middle" class="t">1.19</text>
<text transform="translate(600.14 475.7) scale(0.92 1)" text-anchor="middle" class="t">1.22</text>
<text transform="translate(625.82 475.7) scale(0.92 1)" text-anchor="middle" class="t">1.25</text>
<text transform="translate(651.5 475.7) scale(0.92 1)" text-anchor="middle" class="t">1.28</text>
<text transform="translate(392.4 267) scale(0.92 1)" text-anchor="end" class="t">1000</text>
<text transform="translate(392.4 287.08) scale(0.92 1)" text-anchor="end" class="t">900</text>
<text transform="translate(392.4 307.16) scale(0.92 1)" text-anchor="end" class="t">800</text>
<text transform="translate(392.4 327.24) scale(0.92 1)" text-anchor="end" class="t">700</text>
<text transform="translate(392.4 347.32) scale(0.92 1)" text-anchor="end" class="t">600</text>
<text transform="translate(392.4 367.4) scale(0.92 1)" text-anchor="end" class="t">500</text>
<text transform="translate(392.4 387.48) scale(0.92 1)" text-anchor="end" class="t">400</text>
<text transform="translate(392.4 407.56) scale(0.92 1)" text-anchor="end" class="t">300</text>
<text transform="translate(392.4 427.64) scale(0.92 1)" text-anchor="end" class="t">200</text>
<text transform="translate(392.4 447.72) scale(0.92 1)" text-anchor="end" class="t">100</text>
<text transform="translate(392.4 467.8) scale(0.92 1)" text-anchor="end" class="t">0</text>
<text transform="translate(653.5 267.4) scale(0.92 1)" class="t">10</text>
<text transform="translate(653.5 287.48) scale(0.92 1)" class="t">8</text>
<text transform="translate(653.5 307.56) scale(0.92 1)" class="t">6</text>
<text transform="translate(653.5 327.64) scale(0.92 1)" class="t">4</text>
<text transform="translate(653.5 347.72) scale(0.92 1)" class="t">2</text>
<text transform="translate(653.5 367.8) scale(0.92 1)" class="t">0</text>
<text transform="translate(652.7 387.88) scale(0.92 1)" class="t">-2</text>
<text transform="translate(652.7 407.96) scale(0.92 1)" class="t">-4</text>
<text transform="translate(652.7 428.04) scale(0.92 1)" class="t">-6</text>
<text transform="translate(652.7 448.12) scale(0.92 1)" class="t">-8</text>
<text transform="translate(652.7 468.2) scale(0.92 1)" class="t">-10</text>
<polyline points="407.3,373.3 433.3,381.3 459.1,384.1 484.2,387.9 510.4,391.3 535.5,391.8 561.5,396 587.2,400.1 612.6,406.3 638.6,410.7" fill="none" stroke="#ff0000" stroke-width="1.7" stroke-linejoin="round"/>
<polyline points="407.3,378 433.3,388.5 459.1,393.2 484.2,397 510.4,401.8 535.5,401 561.5,405.3 587.2,408.6 612.6,411.1 638.6,412.4" fill="none" stroke="#8000ff" stroke-width="1.3" stroke-linejoin="round"/>
<polyline points="407.3,380.9 433.3,389.4 459.1,395.7 484.2,398.9 510.4,402.7 535.5,405.3 561.5,407.2 587.2,411.6 612.6,416.3 638.6,416.5" fill="none" stroke="#ff8010" stroke-width="1.3" stroke-linejoin="round"/>
<polyline points="407.3,307 433.3,317.8 459.1,318.7 484.2,319.7 510.4,324 535.5,327 561.5,332.2 587.2,338 612.6,347.6 638.6,349.5" fill="none" stroke="#0a84ff" stroke-width="1.3" stroke-linejoin="round"/>
<circle cx="407.3" cy="373.3" r="4.2" fill="#ff0000"/>
<circle cx="433.3" cy="381.3" r="4.2" fill="#ff0000"/>
<circle cx="459.1" cy="384.1" r="4.2" fill="#ff0000"/>
<circle cx="484.2" cy="387.9" r="4.2" fill="#ff0000"/>
<circle cx="510.4" cy="391.3" r="4.2" fill="#ff0000"/>
<circle cx="535.5" cy="391.8" r="4.2" fill="#ff0000"/>
<circle cx="561.5" cy="396" r="4.2" fill="#ff0000"/>
<circle cx="587.2" cy="400.1" r="4.2" fill="#ff0000"/>
<circle cx="612.6" cy="406.3" r="4.2" fill="#ff0000"/>
<circle cx="638.6" cy="410.7" r="4.2" fill="#ff0000"/>
<rect x="403.5" y="374.2" width="7.6" height="7.6" fill="#8000ff"/>
<rect x="429.5" y="384.7" width="7.6" height="7.6" fill="#8000ff"/>
<rect x="455.3" y="389.4" width="7.6" height="7.6" fill="#8000ff"/>
<rect x="480.4" y="393.2" width="7.6" height="7.6" fill="#8000ff"/>
<rect x="506.6" y="398" width="7.6" height="7.6" fill="#8000ff"/>
<rect x="531.7" y="397.2" width="7.6" height="7.6" fill="#8000ff"/>
<rect x="557.7" y="401.5" width="7.6" height="7.6" fill="#8000ff"/>
<rect x="583.4" y="404.8" width="7.6" height="7.6" fill="#8000ff"/>
<rect x="608.8" y="407.3" width="7.6" height="7.6" fill="#8000ff"/>
<rect x="634.8" y="408.6" width="7.6" height="7.6" fill="#8000ff"/>
<polygon points="407.3,376 411.7,380.9 407.3,385.8 402.9,380.9" fill="#ff8010"/>
<polygon points="433.3,384.5 437.7,389.4 433.3,394.3 428.9,389.4" fill="#ff8010"/>
<polygon points="459.1,390.8 463.5,395.7 459.1,400.6 454.7,395.7" fill="#ff8010"/>
<polygon points="484.2,394 488.6,398.9 484.2,403.8 479.8,398.9" fill="#ff8010"/>
<polygon points="510.4,397.8 514.8,402.7 510.4,407.6 506,402.7" fill="#ff8010"/>
<polygon points="535.5,400.4 539.9,405.3 535.5,410.2 531.1,405.3" fill="#ff8010"/>
<polygon points="561.5,402.3 565.9,407.2 561.5,412.1 557.1,407.2" fill="#ff8010"/>
<polygon points="587.2,406.7 591.6,411.6 587.2,416.5 582.8,411.6" fill="#ff8010"/>
<polygon points="612.6,411.4 617,416.3 612.6,421.2 608.2,416.3" fill="#ff8010"/>
<polygon points="638.6,411.6 643,416.5 638.6,421.4 634.2,416.5" fill="#ff8010"/>
<polygon points="407.3,303 412.3,311 402.3,311" fill="#0a84ff"/>
<polygon points="433.3,313.8 438.3,321.8 428.3,321.8" fill="#0a84ff"/>
<polygon points="459.1,314.7 464.1,322.7 454.1,322.7" fill="#0a84ff"/>
<polygon points="484.2,315.7 489.2,323.7 479.2,323.7" fill="#0a84ff"/>
<polygon points="510.4,320 515.4,328 505.4,328" fill="#0a84ff"/>
<polygon points="535.5,323 540.5,331 530.5,331" fill="#0a84ff"/>
<polygon points="561.5,328.2 566.5,336.2 556.5,336.2" fill="#0a84ff"/>
<polygon points="587.2,334 592.2,342 582.2,342" fill="#0a84ff"/>
<polygon points="612.6,343.6 617.6,351.6 607.6,351.6" fill="#0a84ff"/>
<polygon points="638.6,345.5 643.6,353.5 633.6,353.5" fill="#0a84ff"/>
<text x="357.5" y="254.5" class="pl">e</text>
<text x="447" y="493" class="ti">Tibial Asymmetry(M<tspan class="sub" dy="2">AP</tspan><tspan dy="-2">/L</tspan><tspan class="sub" dy="2">AP</tspan><tspan dy="-2">)</tspan></text>
<text transform="translate(365.6,354) rotate(-90)" text-anchor="middle" class="ti"># of Subjects</text>
<text transform="translate(671.2,364) rotate(90)" text-anchor="middle" class="ti">Tibial Base Rotation (°)</text>
<line x1="396" y1="524.5" x2="653.4" y2="524.5" class="g"/>
<line x1="396" y1="544.5" x2="653.4" y2="544.5" class="g"/>
<line x1="396" y1="564.5" x2="653.4" y2="564.5" class="g"/>
<line x1="396" y1="584.5" x2="653.4" y2="584.5" class="g"/>
<line x1="396" y1="604.5" x2="653.4" y2="604.5" class="g"/>
<line x1="396" y1="624.5" x2="653.4" y2="624.5" class="g"/>
<line x1="396" y1="644.5" x2="653.4" y2="644.5" class="g"/>
<line x1="396" y1="665.5" x2="653.4" y2="665.5" class="g"/>
<line x1="396" y1="685.5" x2="653.4" y2="685.5" class="g"/>
<line x1="396" y1="705.5" x2="653.4" y2="705.5" class="g"/>
<rect class="br" x="397.2" y="713" width="4.25" height="12.4"/>
<rect class="br" x="401.45" y="710.2" width="9.51" height="15.2"/>
<rect class="br" x="410.96" y="699.8" width="9.51" height="25.6"/>
<rect class="br" x="420.47" y="689.7" width="9.51" height="35.7"/>
<rect class="br" x="429.98" y="677.4" width="9.51" height="48"/>
<rect class="br" x="439.48" y="664.7" width="9.51" height="60.7"/>
<rect class="br" x="448.99" y="642.3" width="9.51" height="83.1"/>
<rect class="br" x="458.5" y="628.2" width="9.51" height="97.2"/>
<rect class="br" x="468.01" y="601.6" width="9.51" height="123.8"/>
<rect class="br" x="477.51" y="590.5" width="9.51" height="134.9"/>
<rect class="br" x="487.02" y="572.1" width="9.51" height="153.3"/>
<rect class="br" x="496.53" y="551.6" width="9.51" height="173.8"/>
<rect class="br" x="506.04" y="548.4" width="9.51" height="177"/>
<rect class="br" x="515.54" y="538.2" width="9.51" height="187.2"/>
<rect class="br" x="525.05" y="532.9" width="9.51" height="192.5"/>
<rect class="br" x="534.56" y="537.3" width="9.51" height="188.1"/>
<rect class="br" x="544.06" y="532.9" width="9.51" height="192.5"/>
<rect class="br" x="553.57" y="549.4" width="9.51" height="176"/>
<rect class="br" x="563.08" y="582.6" width="9.51" height="142.8"/>
<rect class="br" x="572.59" y="586.5" width="9.51" height="138.9"/>
<rect class="br" x="582.09" y="608" width="9.51" height="117.4"/>
<rect class="br" x="591.6" y="633" width="9.51" height="92.4"/>
<rect class="br" x="601.11" y="653.4" width="9.51" height="72"/>
<rect class="br" x="610.62" y="663.8" width="9.51" height="61.6"/>
<rect class="br" x="620.12" y="684.6" width="9.51" height="40.8"/>
<rect class="br" x="629.63" y="691.3" width="9.51" height="34.1"/>
<rect class="br" x="639.14" y="699.6" width="9.51" height="25.8"/>
<rect class="br" x="648.65" y="710" width="4.25" height="15.4"/>
<path d="M396.7 524.1V725.4M653.4 524.1V725.4" class="ax"/>
<path d="M396.7 725.4H653.4" class="axb"/>
<path d="M396.7 524.1h4M653.4 524.1h-4M396.7 544.23h4M653.4 544.23h-4M396.7 564.36h4M653.4 564.36h-4M396.7 584.49h4M653.4 584.49h-4M396.7 604.62h4M653.4 604.62h-4M396.7 624.75h4M653.4 624.75h-4M396.7 644.88h4M653.4 644.88h-4M396.7 665.01h4M653.4 665.01h-4M396.7 685.14h4M653.4 685.14h-4M396.7 705.27h4M653.4 705.27h-4M396.7 725.4h4M653.4 725.4h-4M396.7 725.4v-2.5M425.22 725.4v-2.5M453.74 725.4v-2.5M482.27 725.4v-2.5M510.79 725.4v-2.5M539.31 725.4v-2.5M567.83 725.4v-2.5M596.36 725.4v-2.5M624.88 725.4v-2.5M653.4 725.4v-2.5" class="tk"/>
<text transform="translate(396.7 737) scale(0.92 1)" text-anchor="middle" class="t">-1</text>
<text transform="translate(425.22 737) scale(0.92 1)" text-anchor="middle" class="t">0</text>
<text transform="translate(453.74 737) scale(0.92 1)" text-anchor="middle" class="t">1</text>
<text transform="translate(482.27 737) scale(0.92 1)" text-anchor="middle" class="t">2</text>
<text transform="translate(510.79 737) scale(0.92 1)" text-anchor="middle" class="t">3</text>
<text transform="translate(539.31 737) scale(0.92 1)" text-anchor="middle" class="t">4</text>
<text transform="translate(567.83 737) scale(0.92 1)" text-anchor="middle" class="t">5</text>
<text transform="translate(596.36 737) scale(0.92 1)" text-anchor="middle" class="t">6</text>
<text transform="translate(624.88 737) scale(0.92 1)" text-anchor="middle" class="t">7</text>
<text transform="translate(653.4 737) scale(0.92 1)" text-anchor="middle" class="t">8</text>
<text transform="translate(394.4 527.8) scale(0.92 1)" text-anchor="end" class="t">1000</text>
<text transform="translate(394.4 547.93) scale(0.92 1)" text-anchor="end" class="t">900</text>
<text transform="translate(394.4 568.06) scale(0.92 1)" text-anchor="end" class="t">800</text>
<text transform="translate(394.4 588.19) scale(0.92 1)" text-anchor="end" class="t">700</text>
<text transform="translate(394.4 608.32) scale(0.92 1)" text-anchor="end" class="t">600</text>
<text transform="translate(394.4 628.45) scale(0.92 1)" text-anchor="end" class="t">500</text>
<text transform="translate(394.4 648.58) scale(0.92 1)" text-anchor="end" class="t">400</text>
<text transform="translate(394.4 668.71) scale(0.92 1)" text-anchor="end" class="t">300</text>
<text transform="translate(394.4 688.84) scale(0.92 1)" text-anchor="end" class="t">200</text>
<text transform="translate(394.4 708.97) scale(0.92 1)" text-anchor="end" class="t">100</text>
<text transform="translate(394.4 729.1) scale(0.92 1)" text-anchor="end" class="t">0</text>
<text transform="translate(655.4 528.2) scale(0.92 1)" class="t">10</text>
<text transform="translate(655.4 548.33) scale(0.92 1)" class="t">8</text>
<text transform="translate(655.4 568.46) scale(0.92 1)" class="t">6</text>
<text transform="translate(655.4 588.59) scale(0.92 1)" class="t">4</text>
<text transform="translate(655.4 608.72) scale(0.92 1)" class="t">2</text>
<text transform="translate(655.4 628.85) scale(0.92 1)" class="t">0</text>
<text transform="translate(654.6 648.98) scale(0.92 1)" class="t">-2</text>
<text transform="translate(654.6 669.11) scale(0.92 1)" class="t">-4</text>
<text transform="translate(654.6 689.24) scale(0.92 1)" class="t">-6</text>
<text transform="translate(654.6 709.37) scale(0.92 1)" class="t">-8</text>
<text transform="translate(654.6 729.5) scale(0.92 1)" class="t">-10</text>
<polyline points="411.1,613.8 439.5,627.4 468.1,635.1 496.5,641.7 524.8,652.3 553.8,660.8 581.8,665.2 610.7,672 638.6,687" fill="none" stroke="#ff0000" stroke-width="1.7" stroke-linejoin="round"/>
<polyline points="411.1,619.5 439.5,631.8 468.1,642.7 496.5,652.2 524.8,662 553.8,669.6 581.8,678.1 610.7,682.6 638.6,696" fill="none" stroke="#8000ff" stroke-width="1.3" stroke-linejoin="round"/>
<polyline points="411.1,615.1 439.5,628.7 468.1,639.8 496.5,651.8 524.8,663.7 553.8,673.9 581.8,682.6 610.7,691.2 638.6,703.8" fill="none" stroke="#ff8010" stroke-width="1.3" stroke-linejoin="round"/>
<polyline points="411.1,540.7 439.5,553 468.1,564 496.5,575.2 524.8,587.7 553.8,597.3 581.8,606.6 610.7,617.4 638.6,625.7" fill="none" stroke="#0a84ff" stroke-width="1.3" stroke-linejoin="round"/>
<circle cx="411.1" cy="613.8" r="4.2" fill="#ff0000"/>
<circle cx="439.5" cy="627.4" r="4.2" fill="#ff0000"/>
<circle cx="468.1" cy="635.1" r="4.2" fill="#ff0000"/>
<circle cx="496.5" cy="641.7" r="4.2" fill="#ff0000"/>
<circle cx="524.8" cy="652.3" r="4.2" fill="#ff0000"/>
<circle cx="553.8" cy="660.8" r="4.2" fill="#ff0000"/>
<circle cx="581.8" cy="665.2" r="4.2" fill="#ff0000"/>
<circle cx="610.7" cy="672" r="4.2" fill="#ff0000"/>
<circle cx="638.6" cy="687" r="4.2" fill="#ff0000"/>
<rect x="407.3" y="615.7" width="7.6" height="7.6" fill="#8000ff"/>
<rect x="435.7" y="628" width="7.6" height="7.6" fill="#8000ff"/>
<rect x="464.3" y="638.9" width="7.6" height="7.6" fill="#8000ff"/>
<rect x="492.7" y="648.4" width="7.6" height="7.6" fill="#8000ff"/>
<rect x="521" y="658.2" width="7.6" height="7.6" fill="#8000ff"/>
<rect x="550" y="665.8" width="7.6" height="7.6" fill="#8000ff"/>
<rect x="578" y="674.3" width="7.6" height="7.6" fill="#8000ff"/>
<rect x="606.9" y="678.8" width="7.6" height="7.6" fill="#8000ff"/>
<rect x="634.8" y="692.2" width="7.6" height="7.6" fill="#8000ff"/>
<polygon points="411.1,610.2 415.5,615.1 411.1,620 406.7,615.1" fill="#ff8010"/>
<polygon points="439.5,623.8 443.9,628.7 439.5,633.6 435.1,628.7" fill="#ff8010"/>
<polygon points="468.1,634.9 472.5,639.8 468.1,644.7 463.7,639.8" fill="#ff8010"/>
<polygon points="496.5,646.9 500.9,651.8 496.5,656.7 492.1,651.8" fill="#ff8010"/>
<polygon points="524.8,658.8 529.2,663.7 524.8,668.6 520.4,663.7" fill="#ff8010"/>
<polygon points="553.8,669 558.2,673.9 553.8,678.8 549.4,673.9" fill="#ff8010"/>
<polygon points="581.8,677.7 586.2,682.6 581.8,687.5 577.4,682.6" fill="#ff8010"/>
<polygon points="610.7,686.3 615.1,691.2 610.7,696.1 606.3,691.2" fill="#ff8010"/>
<polygon points="638.6,698.9 643,703.8 638.6,708.7 634.2,703.8" fill="#ff8010"/>
<polygon points="411.1,536.7 416.1,544.7 406.1,544.7" fill="#0a84ff"/>
<polygon points="439.5,549 444.5,557 434.5,557" fill="#0a84ff"/>
<polygon points="468.1,560 473.1,568 463.1,568" fill="#0a84ff"/>
<polygon points="496.5,571.2 501.5,579.2 491.5,579.2" fill="#0a84ff"/>
<polygon points="524.8,583.7 529.8,591.7 519.8,591.7" fill="#0a84ff"/>
<polygon points="553.8,593.3 558.8,601.3 548.8,601.3" fill="#0a84ff"/>
<polygon points="581.8,602.6 586.8,610.6 576.8,610.6" fill="#0a84ff"/>
<polygon points="610.7,613.4 615.7,621.4 605.7,621.4" fill="#0a84ff"/>
<polygon points="638.6,621.7 643.6,629.7 633.6,629.7" fill="#0a84ff"/>
<text x="357.5" y="516" class="pl">f</text>
<text x="476" y="755" class="ti">Tibial Skew (mm)</text>
<text transform="translate(366.6,625.5) rotate(-90)" text-anchor="middle" class="ti"># of Subjects</text>
<text transform="translate(674,626.3) rotate(90)" text-anchor="middle" class="ti">Tibial Base Rotation (°)</text>
<rect x="403.2" y="13.6" width="86.4" height="58.6" fill="#fff" stroke="#6a6a6a" stroke-width="1"/>
<line x1="408.4" y1="21.4" x2="436.6" y2="21.4" stroke="#ff0000" stroke-width="2.0"/>
<circle cx="422.4" cy="21.4" r="4.62" fill="#ff0000"/>
<text x="440.2" y="25.5" class="lg">Design 1</text>
<line x1="408.4" y1="35.65" x2="436.6" y2="35.65" stroke="#8000ff" stroke-width="1.4"/>
<rect x="418.22" y="31.47" width="8.36" height="8.36" fill="#8000ff"/>
<text x="440.2" y="39.75" class="lg">Design 2</text>
<line x1="408.4" y1="49.9" x2="436.6" y2="49.9" stroke="#ff8010" stroke-width="1.4"/>
<polygon points="422.4,44.27 427.46,49.9 422.4,55.53 417.34,49.9" fill="#ff8010"/>
<text x="440.2" y="54" class="lg">Design 3</text>
<line x1="408.4" y1="64.15" x2="436.6" y2="64.15" stroke="#0a84ff" stroke-width="1.4"/>
<polygon points="422.4,59.55 428.15,68.75 416.65,68.75" fill="#0a84ff"/>
<text x="440.2" y="68.25" class="lg">Design 4</text>
</svg></body></html>
